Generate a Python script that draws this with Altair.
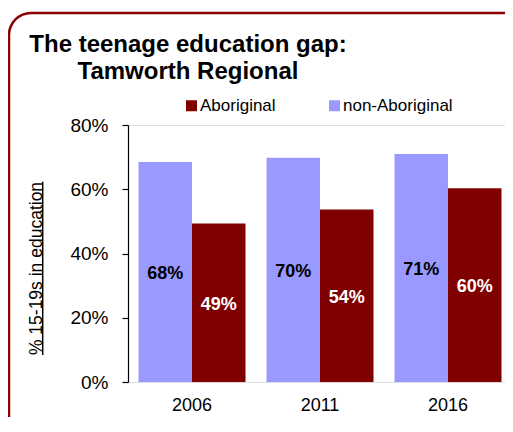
import math
import altair as alt
import pandas as pd

years = ["2006", "2011", "2016"]
non_aboriginal = [68.5, 69.8, 71.0]
aboriginal = [49.3, 53.7, 60.3]
non_ab_labels = ["68%", "70%", "71%"]
ab_labels = ["49%", "54%", "60%"]
groups = ["non-Aboriginal", "Aboriginal"]
legend_order = ["Aboriginal", "non-Aboriginal"]
colors = ["#800000", "#9999FF"]
title_lines = ["The teenage education gap:", "Tamworth Regional"]
y_title = "% 15-19s in education"

rows = []
for i, yr in enumerate(years):
    rows.append({"year": yr, "group": "non-Aboriginal", "value": non_aboriginal[i], "label": non_ab_labels[i]})
    rows.append({"year": yr, "group": "Aboriginal", "value": aboriginal[i], "label": ab_labels[i]})
df = pd.DataFrame(rows)

FONT = "Liberation Sans"
BORDER = "#8B0000"
one = pd.DataFrame({"k": [0]})

W, H = 377, 257

x_enc = alt.X(
    "year:N",
    sort=years,
    scale=alt.Scale(paddingInner=0.164, paddingOuter=0.0547, align=0.75),
    axis=alt.Axis(title=None, labelAngle=0, domain=False, ticks=False,
                  labelFontSize=18, labelColor="black", labelPadding=14, labelFont=FONT),
)
xo_enc = alt.XOffset("group:N", sort=groups, scale=alt.Scale(domain=groups))
y_enc = alt.Y(
    "value:Q",
    scale=alt.Scale(domain=[0, 80], nice=False),
    axis=alt.Axis(
        values=list(range(0, 81, 10)),
        labelExpr="datum.value % 20 == 0 ? datum.value + '%' : ''",
        grid=False, tickSize=6, tickWidth=1.2,
        tickColor={"condition": {"test": "datum.value % 20 == 0", "value": "black"}, "value": "#777777"},
        domainColor="black", domainWidth=1.2,
        labelFontSize=19, labelColor="black", labelPadding=14, labelFont=FONT,
        title=y_title, titleFontSize=17.5, titleFontWeight="normal", titleColor="black",
        titleFont=FONT, titleAngle=270, titleX=-87, titleY=143, titleAlign="center",
        titleBaseline="alphabetic",
    ),
)

bars = alt.Chart(df).mark_bar().encode(
    x=x_enc,
    xOffset=xo_enc,
    y=y_enc,
    color=alt.Color(
        "group:N",
        scale=alt.Scale(domain=legend_order, range=colors),
        legend=alt.Legend(
            title=None, orient="none", direction="horizontal", legendX=55, legendY=-28,
            symbolType="square", symbolSize=121, symbolStrokeWidth=0, labelFontSize=17,
            labelFont=FONT, labelColor="black", labelOffset=0, columnPadding=50, padding=0,
        ),
    ),
)

texts = alt.Chart(df).transform_calculate(mid="datum.value / 2").mark_text(
    fontSize=18, fontWeight="bold", font=FONT, baseline="middle", align="center", dy=2
).encode(
    x=alt.X("year:N", sort=years),
    xOffset=alt.XOffset("group:N", sort=groups),
    y=alt.Y("mid:Q"),
    text="label:N",
    color=alt.condition(alt.datum.group == "Aboriginal", alt.value("white"), alt.value("black")),
)

# rounded frame around the whole chart (continues beyond the window on the right/bottom)
R = 22
SW = 2.5
left_x, top_y = -119, -112
tl_c = (left_x + R, top_y + R)
right_x = W
bottom_y = 292

frame = [
    alt.Chart(one).mark_arc(color=BORDER).encode(
        x=alt.value(tl_c[0]), y=alt.value(tl_c[1]),
        radius=alt.value(R + SW / 2), radius2=alt.value(R - SW / 2),
        theta=alt.value(1.5 * math.pi), theta2=alt.value(2 * math.pi),
    ),
    alt.Chart(one).mark_rule(color=BORDER, strokeWidth=SW).encode(
        x=alt.value(tl_c[0]), x2=alt.value(right_x), y=alt.value(top_y)),
    alt.Chart(one).mark_rule(color=BORDER, strokeWidth=SW).encode(
        x=alt.value(left_x), y=alt.value(tl_c[1]), y2=alt.value(bottom_y)),
]

title1 = alt.Chart(one).mark_text(
    text=title_lines[0], fontSize=24, fontWeight="bold", font=FONT, align="center",
    baseline="alphabetic", color="black"
).encode(x=alt.value(60), y=alt.value(-73))
title2 = alt.Chart(one).mark_text(
    text=title_lines[1], fontSize=24, fontWeight="bold", font=FONT, align="center",
    baseline="alphabetic", color="black"
).encode(x=alt.value(60), y=alt.value(-46))

underline = alt.Chart(one).mark_rule(color="black", strokeWidth=1.5).encode(
    x=alt.value(-85.3), y=alt.value(56.7), y2=alt.value(230)
)

chart = alt.layer(*frame, title1, title2, underline, bars, texts).properties(
    width=W, height=H,
    autosize=alt.AutoSizeParams(type="none"),
    padding={"left": 120, "top": 117, "right": 0, "bottom": 35},
).configure_view(stroke=None).configure(font=FONT, background="white")

chart.save("out.html", embed_options={"renderer": "svg", "actions": False})
